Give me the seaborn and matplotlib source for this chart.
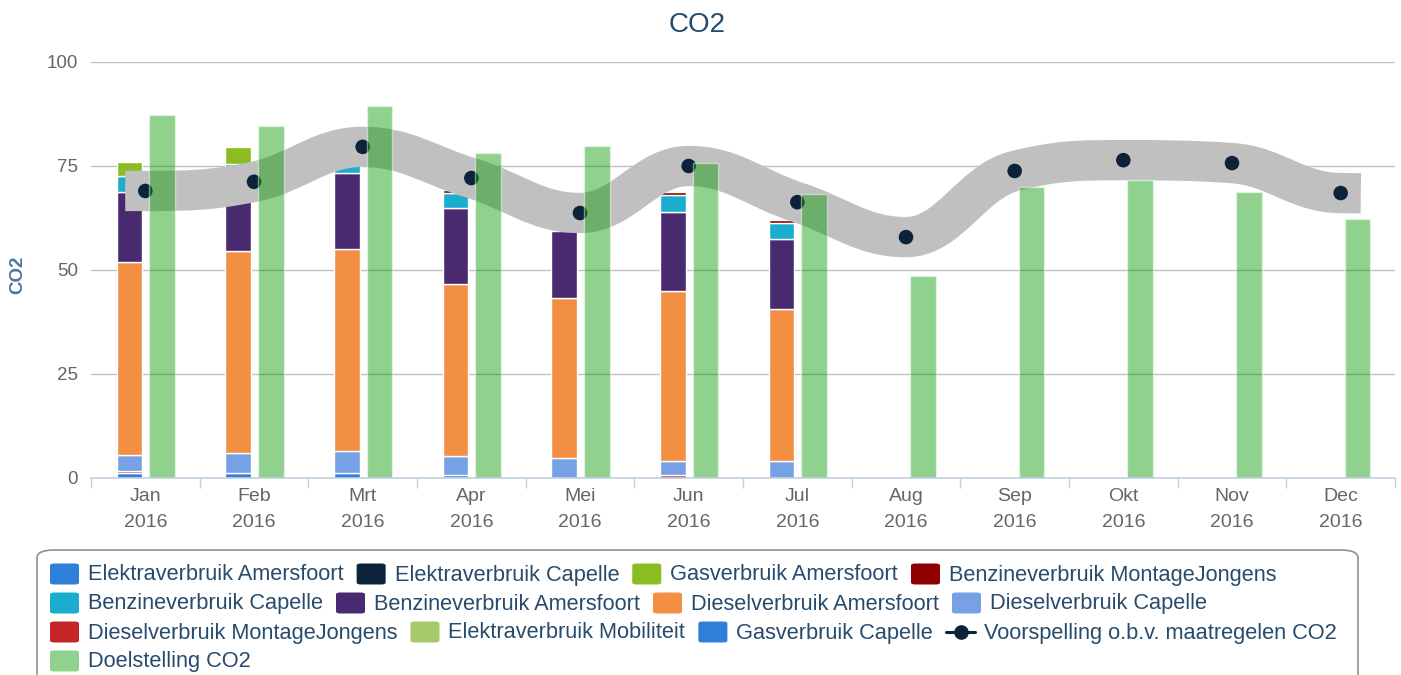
# %%
# ===== Imports =====
import numpy as np
import matplotlib
matplotlib.use('Agg')
import matplotlib.pyplot as plt
from matplotlib.path import Path
from matplotlib.patches import PathPatch, FancyBboxPatch
import seaborn as sns

sns.set_theme(style='white')
plt.rcParams['font.family'] = ['Liberation Sans', 'DejaVu Sans']

# %%
# ===== Data =====
months = ['Jan', 'Feb', 'Mrt', 'Apr', 'Mei', 'Jun', 'Jul', 'Aug', 'Sep', 'Okt', 'Nov', 'Dec']
year = '2016'

elektra_amersfoort = [0, 0, 0, 0, 0, 0, 0, 0, 0, 0, 0, 0]
elektra_capelle = [0, 0, 0, 0, 0, 0, 0, 0, 0, 0, 0, 0]
gas_amersfoort = [3.4, 4.0, 0, 0, 0, 0, 0, 0, 0, 0, 0, 0]
benzine_montagejongens = [0, 0, 0, 0.6, 0, 0.6, 0.6, 0, 0, 0, 0, 0]
benzine_capelle = [3.8, 3.0, 2.5, 3.8, 0, 4.2, 3.9, 0, 0, 0, 0, 0]
benzine_amersfoort = [16.8, 17.9, 18.2, 18.2, 16.1, 18.9, 16.8, 0, 0, 0, 0, 0]
diesel_amersfoort = [46.4, 48.6, 48.5, 41.3, 38.5, 40.9, 36.6, 0, 0, 0, 0, 0]
diesel_capelle = [3.8, 4.8, 5.3, 4.5, 4.8, 3.3, 4.0, 0, 0, 0, 0, 0]
diesel_montagejongens = [0.6, 0, 0, 0, 0, 0.8, 0, 0, 0, 0, 0, 0]
elektra_mobiliteit = [0, 0, 0, 0, 0, 0, 0, 0, 0, 0, 0, 0]
gas_capelle = [1.2, 1.2, 1.2, 0.8, 0, 0, 0, 0, 0, 0, 0, 0]

voorspelling = [69.0, 71.2, 79.6, 72.1, 63.7, 75.0, 66.3, 57.9, 73.8, 76.4, 75.7, 68.5]
doelstelling = [87.3, 84.6, 89.4, 78.1, 79.8, 75.7, 68.3, 48.6, 70.0, 71.6, 68.8, 62.3]

stack_names = ['Elektraverbruik Amersfoort', 'Elektraverbruik Capelle', 'Gasverbruik Amersfoort',
               'Benzineverbruik MontageJongens', 'Benzineverbruik Capelle', 'Benzineverbruik Amersfoort',
               'Dieselverbruik Amersfoort', 'Dieselverbruik Capelle', 'Dieselverbruik MontageJongens',
               'Elektraverbruik Mobiliteit', 'Gasverbruik Capelle']
stack_values = [elektra_amersfoort, elektra_capelle, gas_amersfoort, benzine_montagejongens,
                benzine_capelle, benzine_amersfoort, diesel_amersfoort, diesel_capelle,
                diesel_montagejongens, elektra_mobiliteit, gas_capelle]
stack_colors = ['#2f7ed8', '#0d233a', '#8bbc21', '#910000', '#1aadce', '#492970',
                '#f28f43', '#77a1e5', '#c42525', '#a6c96a', '#2f7ed8']

W, H = 1401, 675


# %%
# ===== Helpers =====
def spline_path(xs, ys, smoothing=1.5):
    # smooth curve through the points, highcharts style (flat at both ends)
    den = smoothing + 1
    n = len(xs)
    conts = []
    for i in range(n):
        x, y = xs[i], ys[i]
        if i == 0:
            conts.append(((x, y), ((smoothing * x + xs[1]) / den, y)))
            continue
        if i == n - 1:
            conts.append((((smoothing * x + xs[i - 1]) / den, y), (x, y)))
            continue
        lx, ly, nx, ny = xs[i - 1], ys[i - 1], xs[i + 1], ys[i + 1]
        lcx = (smoothing * x + lx) / den
        lcy = (smoothing * y + ly) / den
        rcx = (smoothing * x + nx) / den
        rcy = (smoothing * y + ny) / den
        corr = ((rcy - lcy) * (rcx - x)) / (rcx - lcx) + y - rcy
        lcy += corr
        rcy += corr
        if lcy > ly and lcy > y:
            lcy = max(ly, y); rcy = 2 * y - lcy
        elif lcy < ly and lcy < y:
            lcy = min(ly, y); rcy = 2 * y - lcy
        if rcy > ny and rcy > y:
            rcy = max(ny, y); lcy = 2 * y - rcy
        elif rcy < ny and rcy < y:
            rcy = min(ny, y); lcy = 2 * y - rcy
        conts.append(((lcx, lcy), (rcx, rcy)))
    verts = [(xs[0], ys[0])]
    codes = [Path.MOVETO]
    for i in range(1, n):
        verts += [conts[i - 1][1], conts[i][0], (xs[i], ys[i])]
        codes += [Path.CURVE4] * 3
    return Path(verts, codes)


def fx(px):
    return px / W


def fy(py):
    return 1 - py / H


# %%
# ===== Plot =====
fig = plt.figure(figsize=(W / 100, H / 100), dpi=100)
ax = fig.add_axes([fx(91), fy(478), (1395 - 91) / W, (478 - 62) / H])

x = np.arange(len(months))
bar_w = 0.235

# stacked bars, last series at the bottom
bottom = np.zeros(len(months))
for name, vals, col in reversed(list(zip(stack_names, stack_values, stack_colors))):
    vals = np.array(vals, dtype=float)
    mask = vals > 0
    ax.bar(x[mask] - 0.145, vals[mask], bar_w, bottom=bottom[mask], color=col,
           edgecolor='white', linewidth=1, zorder=2)
    bottom += vals

# forecast band + points
band = PathPatch(spline_path(x.astype(float), voorspelling), fill=False, edgecolor='#c0c0c0',
                 linewidth=29, capstyle='projecting', joinstyle='round', zorder=3)
ax.add_patch(band)
sns.scatterplot(x=x, y=voorspelling, ax=ax, s=110, color='#0d233a', edgecolor='none',
                zorder=4, legend=False)

# target bars
ax.bar(x + 0.155, doelstelling, bar_w, color='#089902', alpha=0.45,
       edgecolor='white', linewidth=1, zorder=5)

# axes styling
ax.set_xlim(-0.5, 11.5)
ax.set_ylim(0, 100)
ax.set_yticks([0, 25, 50, 75, 100])
ax.set_yticklabels(['0', '25', '50', '75', '100'])
ax.set_xticks(x)
ax.set_xticklabels([f'{m}\n{year}' for m in months], linespacing=1.65)
ax.set_xticks(np.arange(-0.5, 12, 1), minor=True)
ax.tick_params(axis='y', length=0, pad=9.5, labelsize=13.5, labelcolor='#666666')
ax.tick_params(axis='x', which='major', length=0, pad=7.5, labelsize=14, labelcolor='#666666')
ax.tick_params(axis='x', which='minor', length=7.5, width=1, color='#c0d0e0', bottom=True)
ax.yaxis.grid(True, color='#c0c0c0', linewidth=1)
ax.xaxis.grid(False)
ax.set_axisbelow(True)
for side in ['top', 'right', 'left']:
    ax.spines[side].set_visible(False)
ax.spines['bottom'].set_color('#c0d0e0')
ax.spines['bottom'].set_linewidth(1.2)
ax.spines['bottom'].set_zorder(6)
ax.set_xlabel('')
ax.set_ylabel('')

fig.text(fx(697), fy(25), 'CO2', ha='center', va='center', fontsize=20, color='#274b6d')
fig.text(fx(18), fy(275), 'CO2', ha='center', va='center', rotation=90, fontsize=13.5,
         fontweight='bold', color='#4d759e')

# %%
# ===== Legend (flow layout) =====
box = FancyBboxPatch((fx(37), fy(700)), fx(1358 - 37), (700 - 550) / H,
                     boxstyle='round,pad=0,rounding_size=0.012', transform=fig.transFigure,
                     facecolor='white', edgecolor='#909090', linewidth=1.2, zorder=1)
fig.patches.append(box)

legend_names = stack_names + ['Voorspelling o.b.v. maatregelen CO2', 'Doelstelling CO2']
legend_colors = stack_colors + ['#0d233a', '#90d18d']
row_breaks = [4, 8, 12]
renderer = fig.canvas.get_renderer()
sym_w, sym_h = 29, 21
cur_x, row_y = 50, 574
for i, (name, col) in enumerate(zip(legend_names, legend_colors)):
    if i in row_breaks:
        cur_x = 50
        row_y += 29
    if name.startswith('Voorspelling'):
        fig.lines.append(plt.Line2D([fx(cur_x), fx(cur_x + sym_w)], [fy(row_y), fy(row_y)],
                                    transform=fig.transFigure, color=col, linewidth=2.2))
        fig.lines.append(plt.Line2D([fx(cur_x + sym_w / 2)], [fy(row_y)], transform=fig.transFigure,
                                    marker='o', markersize=9.5, color=col, linestyle='none'))
    else:
        sym = FancyBboxPatch((fx(cur_x), fy(row_y + sym_h / 2)), fx(sym_w), sym_h / H,
                             boxstyle='round,pad=0,rounding_size=0.003', transform=fig.transFigure,
                             facecolor=col, edgecolor='none', zorder=2)
        fig.patches.append(sym)
    t = fig.text(fx(cur_x + 38), fy(row_y + 1), name, ha='left', va='center', fontsize=15.7,
                 color='#274b6d')
    tw = t.get_window_extent(renderer).width
    cur_x += 38 + tw + 13

fig.savefig('out.png', dpi=100)
